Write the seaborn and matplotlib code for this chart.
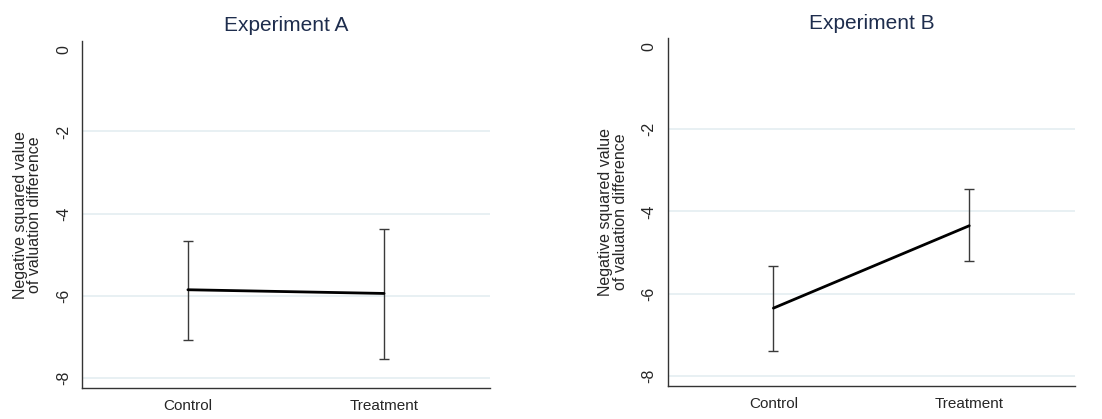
import matplotlib
matplotlib.use("Agg")
import matplotlib.pyplot as plt
import seaborn as sns
import pandas as pd

sns.set_style("white")
plt.rcParams['font.family'] = ['Liberation Sans', 'DejaVu Sans']

groups = ["Control", "Treatment"]
titles = ["Experiment A", "Experiment B"]
means_a = [-5.85, -5.94]
lo_a = [-7.07, -7.53]
hi_a = [-4.66, -4.36]
means_b = [-6.35, -4.35]
lo_b = [-7.40, -5.21]
hi_b = [-5.32, -3.46]
yticks = [0, -2, -4, -6, -8]
gridlines = [-2, -4, -6, -8]
ylabel = "Negative squared value\nof valuation difference"

fig = plt.figure(figsize=(11.02, 4.19), dpi=100)
axA = fig.add_axes([0.0744, 0.074, 0.3702, 0.828])
axB = fig.add_axes([0.6059, 0.0788, 0.3696, 0.8298])

title_color = "#1e2d4d"
grid_color = "#e6eff2"

for ax, title, means, lo, hi in [(axA, titles[0], means_a, lo_a, hi_a),
                                  (axB, titles[1], means_b, lo_b, hi_b)]:
    df = pd.DataFrame({"group": groups, "mean": means, "lo": lo, "hi": hi})
    x = list(range(len(groups)))
    for yv in gridlines:
        ax.axhline(yv, color=grid_color, lw=1.3, zorder=0)
    ax.errorbar(x, df["mean"], yerr=[df["mean"] - df["lo"], df["hi"] - df["mean"]],
                fmt="none", ecolor="#3a3a3a", elinewidth=1.0, capsize=3.5, capthick=1.0, zorder=2)
    sns.lineplot(data=df, x="group", y="mean", ax=ax, color="black", lw=2.0, zorder=3,
                 sort=False)
    ax.set_xlim(-0.54, 1.54)
    ax.set_ylim(-8.24, 0.2)
    ax.set_yticks(yticks)
    ax.set_yticklabels([str(v) for v in yticks], rotation=90, va="center", fontsize=11.5)
    ax.set_xticks(x)
    ax.set_xticklabels(groups, fontsize=11)
    ax.tick_params(axis="both", length=5, width=1, color="#888888", pad=3, direction="out")
    ax.set_xlabel("")
    ax.set_ylabel(ylabel, fontsize=11.5, labelpad=10, linespacing=0.95)
    ax.set_title(title, fontsize=15, color=title_color, pad=7)
    for s in ["top", "right"]:
        ax.spines[s].set_visible(False)
    for s in ["left", "bottom"]:
        ax.spines[s].set_color("#333333")
        ax.spines[s].set_linewidth(1.0)

fig.savefig("out.png", dpi=100)
